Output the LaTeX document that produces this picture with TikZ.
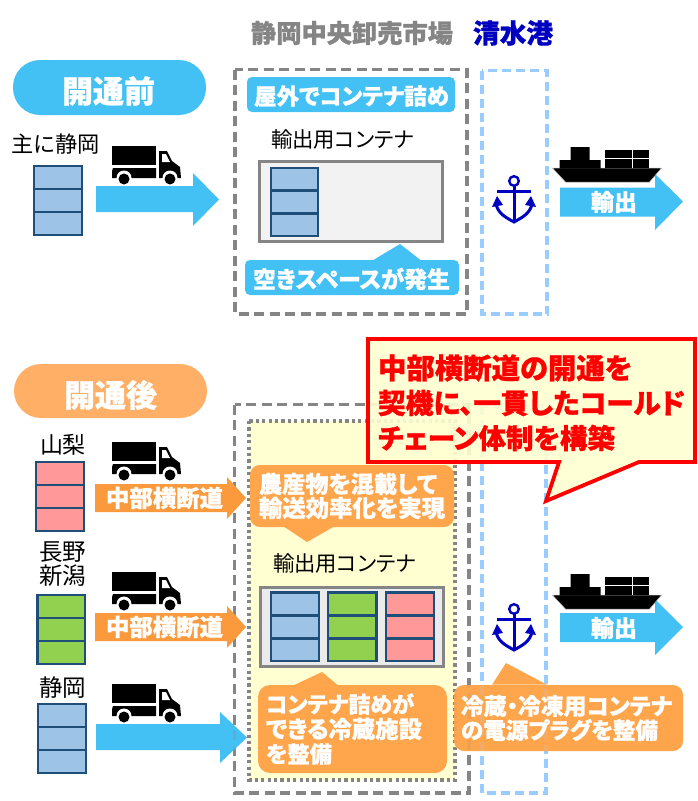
\documentclass[tikz,border=0pt]{standalone}
\usepackage{graphicx}
\usepackage{fontspec}
\setmainfont[RawFeature=+palt,BoldFeatures={FakeBold=0.9}]{Noto Sans CJK JP}
\definecolor{skyb}{HTML}{43C1F4}
\definecolor{pillor}{HTML}{FFB066}
\definecolor{arrowor}{HTML}{FB9A3C}
\definecolor{callor}{HTML}{FFA64D}
\definecolor{boxgray}{HTML}{858585}
\definecolor{portb}{HTML}{99CCFF}
\definecolor{navyb}{HTML}{0000C0}
\definecolor{cellb}{HTML}{9DC3E6}
\definecolor{cellp}{HTML}{FF9999}
\definecolor{cellg}{HTML}{92D050}
\definecolor{celledge}{HTML}{1F4E79}
\definecolor{softy}{HTML}{FFFFD2}
\newcommand\tw[2]{\resizebox{#1pt}{!}{#2}}
\newcommand\cargo[5]{%
  \fill[#5] (#1,#2) rectangle (#3,#4);
  \draw[stackline] (#1,#2) rectangle (#3,#4);
  \draw[stackline] (#1,{#2+(#4-#2)/3}) -- (#3,{#2+(#4-#2)/3});
  \draw[stackline] (#1,{#2+2*(#4-#2)/3}) -- (#3,{#2+2*(#4-#2)/3});
}
\newcommand\truck[2]{%
  \begin{scope}[shift={(#1,#2)}]
    \fill[black] (0,0) rectangle (44,19);
    \fill[black] (0,25) -- (1,22) -- (44,22) -- (44,32) -- (0,32) -- cycle;
    \fill[black] (47,5) -- (55,5) -- (60,15) -- (68,21) -- (69,32) -- (47,32) -- cycle;
    \fill[white] (50,8) -- (54,8) -- (58,16) -- (50,16) -- cycle;
    \fill[white] (12,32) circle (7.5);
    \fill[white] (58,32) circle (7.5);
    \fill[black] (12,33) circle (5.5);
    \fill[black] (58,33) circle (5.5);
  \end{scope}}
\newcommand\vessel[2]{%
  \begin{scope}[shift={(#1,#2)}]
    \fill[black,draw=white!70!black,line width=.5pt] (0,21) -- (109,21) -- (97,35) -- (13,35) -- cycle;
    \fill[black] (7,21.5) -- (7,13) -- (18,13) -- (18,0) -- (37,0) -- (37,13) -- (48,13) -- (48,21.5) -- cycle;
    \fill[black] (52,3) rectangle (96,20.5);
    \draw[white,line width=1pt] (52,11) -- (96,11) (80,3) -- (80,20.5);
  \end{scope}}
\newcommand\anchormark[2]{%
  \begin{scope}[shift={(#1,#2)},draw=navyb,line width=3pt]
    \draw[line width=2.4pt] (0,6) circle (4.8);
    \draw (0,11) -- (0,47);
    \draw (-17,16) -- (17,16);
    \draw (-18,29) .. controls (-16,39) and (-7,43) .. (0,47) .. controls (7,43) and (16,39) .. (18,29);
    \fill[navyb] (-22,32) -- (-17,21) -- (-11,30) -- cycle;
    \fill[navyb] (22,32) -- (17,21) -- (11,30) -- cycle;
  \end{scope}}
\tikzset{
  stackline/.style={draw=celledge,line width=2.8pt},
  lbl/.style={inner sep=0pt,outer sep=0pt,anchor=west},
  wlbl/.style={lbl,text=white,font=\bfseries},
  gdash/.style={draw=boxgray,line width=3.6pt,dash pattern=on 10pt off 5.5pt},
  pdash/.style={draw=portb,line width=3.6pt,dash pattern=on 9pt off 5pt},
  gdot/.style={draw=boxgray,line width=3.4pt,dash pattern=on 3.2pt off 3.2pt},
  holder/.style={fill=#1,draw=boxgray,line width=3pt},
}
\begin{document}
\begin{tikzpicture}[x=1pt,y=-1pt]
\useasboundingbox (0,0) rectangle (698,801);
\fill[white] (0,0) rectangle (698,801);

% headings
\node[lbl,text=boxgray,font=\bfseries] (hmarket) at (251,33) {\tw{202}{静岡中央卸売市場}};
\node[lbl,text=navyb,font=\bfseries] (hport) at (473,33) {\tw{80}{清水港}};

% ---------- before
\fill[skyb,rounded corners=27pt] (13,60) rectangle (206,115);
\node[wlbl] (before) at (62,91) {\tw{93}{開通前}};
\node[lbl] (shuni) at (12,144) {\tw{88}{主に静岡}};
\cargo{34}{166}{82}{235}{cellb}
\truck{112}{146}
\fill[skyb] (96,186) -- (193,186) -- (193,173) -- (219,199.5) -- (193,226) -- (193,212) -- (96,212) -- cycle;

\draw[gdash] (235,69.5) rectangle (467,314);
\draw[pdash] (482,70.5) rectangle (547,314);
\fill[skyb,rounded corners=5pt] (247,77) rectangle (455,112);
\node[wlbl] (outdoor) at (254,96) {\tw{195}{屋外でコンテナ詰め}};
\node[lbl] (ctA) at (271,139) {\tw{143}{輸出用コンテナ}};
\draw[holder=black!5] (259,161.5) rectangle (442.5,241);
\cargo{271}{168}{318}{236}{cellb}
\fill[skyb,rounded corners=5pt] (245,260) rectangle (459,295);
\fill[skyb] (370,262) -- (400,244) -- (423,262) -- cycle;
\node[wlbl] (space) at (253,279) {\tw{197}{空きスペースが発生}};
\anchormark{514}{175}
\fill[skyb] (560,187.5) -- (655,187.5) -- (655,174) -- (683,201.5) -- (655,230) -- (655,216.5) -- (560,216.5) -- cycle;
\vessel{552.5}{147}
\node[wlbl] (expA) at (591,202) {\tw{46}{輸出}};

% ---------- after
\fill[pillor,rounded corners=27pt] (14,364) rectangle (207,418);
\node[wlbl] (after) at (64,395) {\tw{93}{開通後}};

\fill[softy] (249,421) rectangle (455,780);
\draw[gdot] (249,421) rectangle (455,780);
\draw[gdash] (234.5,404.5) rectangle (469,793);
\draw[pdash] (482,406) rectangle (546,793);

\node[lbl] (yama) at (40,445) {\tw{46}{山梨}};
\cargo{36}{462}{84}{531}{cellp}
\truck{112}{442}
\fill[arrowor] (95,484) -- (227,484) -- (227,477) -- (246,498) -- (227,519) -- (227,512) -- (95,512) -- cycle;
\node[wlbl] (chubuA) at (106,498) {\tw{117}{中部横断道}};

\node[lbl] (naga) at (39,552) {\tw{47}{長野}};
\node[lbl] (niig) at (39,576) {\tw{47}{新潟}};
\cargo{37.5}{595}{85}{664}{cellg}
\truck{112}{572}
\fill[arrowor] (95,613) -- (227,613) -- (227,606) -- (246,627) -- (227,648) -- (227,641) -- (95,641) -- cycle;
\node[wlbl] (chubuB) at (106,627) {\tw{117}{中部横断道}};

\node[lbl] (shizu) at (39,688) {\tw{47}{静岡}};
\cargo{38}{704}{86}{773}{cellb}
\truck{112}{684}
\fill[skyb] (96,724) -- (220,724) -- (220,712) -- (247,737.5) -- (220,763) -- (220,750) -- (96,750) -- cycle;
\begin{scope}
  \clip (96,724) -- (220,724) -- (220,712) -- (247,737.5) -- (220,763) -- (220,750) -- (96,750) -- cycle;
  \draw[gdash,draw=skyb!70!boxgray] (234.5,404.5) rectangle (469,793);
\end{scope}

% mix callout
\fill[callor,rounded corners=10pt] (250,465) rectangle (454,527);
\fill[callor] (283,526) -- (335,526) -- (307,542) -- cycle;
\node[wlbl] (mixA) at (259,484) {\tw{178}{農産物を混載して}};
\node[wlbl] (mixB) at (259,508) {\tw{186}{輸送効率化を実現}};

\node[lbl] (ctB) at (273,563) {\tw{143}{輸出用コンテナ}};
\draw[holder=black!8] (260.5,587) rectangle (443,666);
\cargo{271}{592.5}{319}{661}{cellb}
\cargo{328}{592.5}{376.5}{661}{cellg}
\cargo{386}{592.5}{434}{661}{cellp}

% cold store callout
\fill[callor,rounded corners=12pt] (258,685) rectangle (447,773);
\fill[callor] (290,687) -- (322,672) -- (340,687) -- cycle;
\node[wlbl] (coldA) at (266,704) {\tw{148}{コンテナ詰めが}};
\node[wlbl] (coldB) at (266,729) {\tw{156}{できる冷蔵施設}};
\node[wlbl] (coldC) at (266,754) {\tw{66}{を整備}};

% plug callout
\fill[callor,rounded corners=10pt] (454,685) rectangle (683,751);
\fill[callor] (492,684.7) -- (506,663) -- (547,684.7) -- cycle;
\begin{scope}
  \clip[rounded corners=10pt] (454,685) rectangle (683,751);
  \draw[pdash,draw=callor!85!portb] (482,406) rectangle (546,793);
  \draw[gdash,draw=callor!85!boxgray] (234.5,404.5) rectangle (469,793);
  \draw[gdot,draw=callor!85!boxgray] (249,421) rectangle (455,780);
\end{scope}
\node[wlbl] (plugA) at (461,706) {\tw{211}{冷蔵・冷凍用コンテナ}};
\node[wlbl] (plugB) at (461,730) {\tw{197}{の電源プラグを整備}};

\anchormark{514}{603}
\fill[skyb] (560,613) -- (655,613) -- (655,599) -- (683,627) -- (655,655) -- (655,642) -- (560,642) -- cycle;
\vessel{552.5}{574}
\node[wlbl] (expB) at (591,628) {\tw{46}{輸出}};

% red callout
\draw[draw=red,line width=3.8pt,fill=softy,fill opacity=.9,line join=miter]
  (368,339) -- (695,339) -- (695,462) -- (639,462) -- (546,501) -- (559,462) -- (368,462) -- cycle;
\node[lbl,text=red,font=\bfseries] (redA) at (378,368) {\tw{254}{中部横断道の開通を}};
\node[lbl,text=red,font=\bfseries] (redB) at (378,403) {\tw{307}{契機に、一貫したコールド}};
\node[lbl,text=red,font=\bfseries] (redC) at (378,438) {\tw{237}{チェーン体制を構築}};
\end{tikzpicture}
\end{document}
